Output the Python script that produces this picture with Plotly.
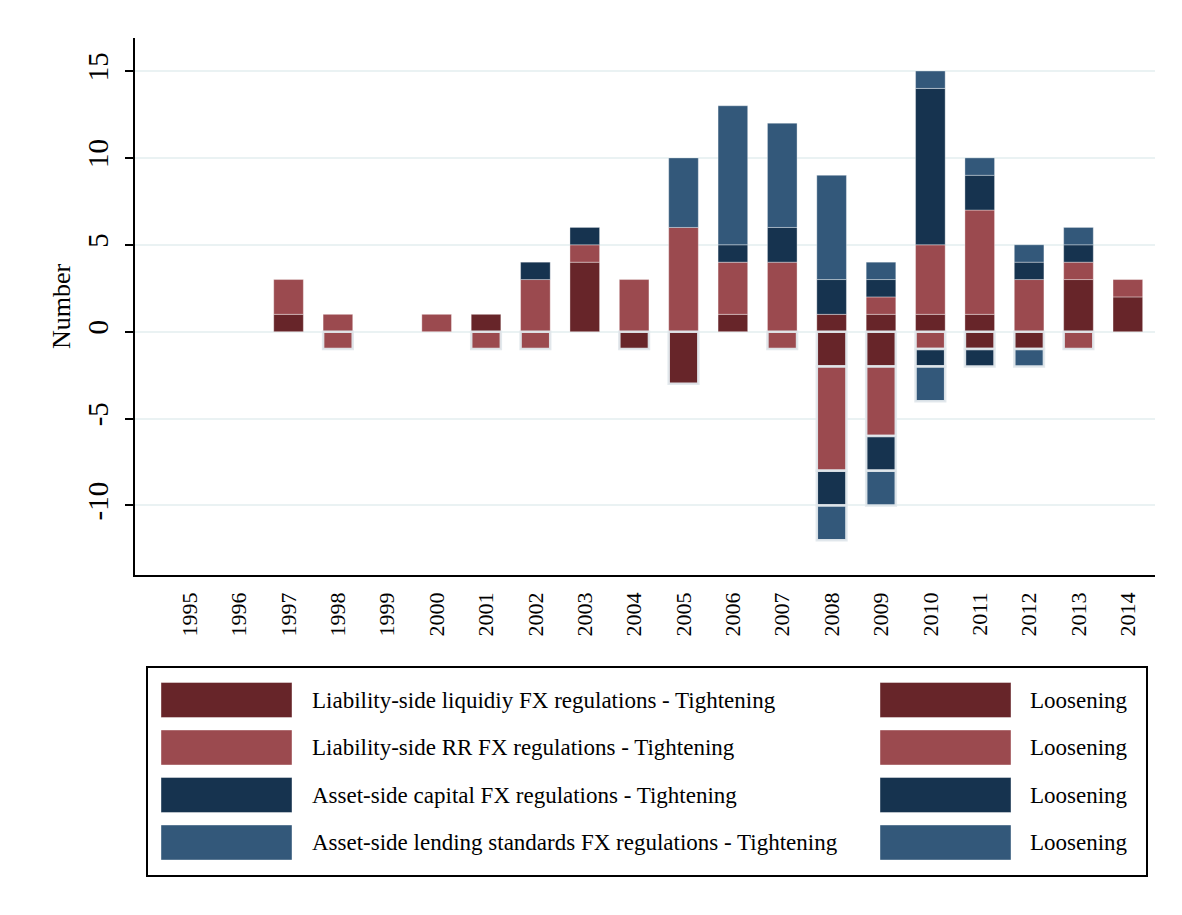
import plotly.graph_objects as go

years = list(range(1995, 2015))

# tightening (positive counts)
liq_tight = [0, 0, 1, 0, 0, 0, 1, 0, 4, 0, 0, 1, 0, 1, 1, 1, 1, 0, 3, 2]
rr_tight = [0, 0, 2, 1, 0, 1, 0, 3, 1, 3, 6, 3, 4, 0, 1, 4, 6, 3, 1, 1]
cap_tight = [0, 0, 0, 0, 0, 0, 0, 1, 1, 0, 0, 1, 2, 2, 1, 9, 2, 1, 1, 0]
lend_tight = [0, 0, 0, 0, 0, 0, 0, 0, 0, 0, 4, 8, 6, 6, 1, 1, 1, 1, 1, 0]

# loosening (negative counts)
liq_loose = [0, 0, 0, 0, 0, 0, 0, 0, 0, -1, -3, 0, 0, -2, -2, 0, -1, -1, 0, 0]
rr_loose = [0, 0, 0, -1, 0, 0, -1, -1, 0, 0, 0, 0, -1, -6, -4, -1, 0, 0, -1, 0]
cap_loose = [0, 0, 0, 0, 0, 0, 0, 0, 0, 0, 0, 0, 0, -2, -2, -1, -1, 0, 0, 0]
lend_loose = [0, 0, 0, 0, 0, 0, 0, 0, 0, 0, 0, 0, 0, -2, -2, -2, 0, -1, 0, 0]

labels = [
    "Liability-side liquidiy FX regulations - Tightening",
    "Liability-side RR FX regulations - Tightening",
    "Asset-side capital FX regulations - Tightening",
    "Asset-side lending standards FX regulations - Tightening",
]
loose_label = "Loosening"
colors = ["#672529", "#9b4a4f", "#16334f", "#33587a"]

y_ticks = [-10, -5, 0, 5, 10, 15]
y_ticktext = ["-10", "-5", "0", "5", "10", "15"]

# page has an 8px body margin, so work in figure pixels = page pixels - 8
OFF = 8
W, H = 1182 - OFF, 915 - OFF
L, R, T, B = 135 - OFF, 1155 - OFF, 38 - OFF, 575 - OFF
FONT = "Liberation Serif, Times New Roman, serif"


def nz(vals):
    # drop empty segments so they don't leave an outline on the axis
    return [v if v != 0 else None for v in vals]


fig = go.Figure()
for vals, name, col in zip([liq_tight, rr_tight, cap_tight, lend_tight], labels, colors):
    fig.add_trace(go.Bar(
        x=years, y=nz(vals), name=name, width=0.6,
        marker=dict(color=col, line=dict(color="rgba(255,255,255,0.35)", width=1)),
    ))
for vals, col in zip([liq_loose, rr_loose, cap_loose, lend_loose], colors):
    fig.add_trace(go.Bar(
        x=years, y=nz(vals), name=loose_label, width=0.6,
        marker=dict(color=col, line=dict(color="rgba(225,232,236,0.95)", width=2.5)),
    ))


# hand-drawn legend with large swatches (page pixel -> paper coords)
def px(x):
    return (x - OFF - L) / (R - L)


def py(y):
    return (B - (y - OFF)) / (B - T)


shapes = [dict(type="rect", xref="paper", yref="paper",
               x0=px(147), x1=px(1147), y0=py(876), y1=py(667),
               line=dict(color="black", width=2), fillcolor="white")]
annotations = []
row_y = [700, 747.5, 795, 842.5]
for i, (name, col) in enumerate(zip(labels, colors)):
    yc = row_y[i]
    for sx in (161, 880):
        shapes.append(dict(type="rect", xref="paper", yref="paper",
                           x0=px(sx), x1=px(sx + 131), y0=py(yc + 17.5), y1=py(yc - 17.5),
                           line=dict(color="rgba(255,255,255,0.4)", width=1), fillcolor=col))
    annotations.append(dict(xref="paper", yref="paper", x=px(310), y=py(yc), text=name,
                            showarrow=False, xanchor="left", yanchor="middle",
                            font=dict(size=23, color="black", family=FONT)))
    annotations.append(dict(xref="paper", yref="paper", x=px(1028), y=py(yc), text=loose_label,
                            showarrow=False, xanchor="left", yanchor="middle",
                            font=dict(size=23, color="black", family=FONT)))

fig.update_layout(
    width=W, height=H,
    barmode="relative",
    showlegend=False,
    paper_bgcolor="white", plot_bgcolor="white",
    margin=dict(l=L, r=W - R, t=T, b=H - B, pad=0),
    font=dict(family=FONT, color="black"),
    shapes=shapes, annotations=annotations,
    xaxis=dict(
        range=[1993.89, 2014.55], tickmode="array", tickvals=years,
        ticktext=[str(y) for y in years], tickangle=-90,
        tickfont=dict(size=22, family=FONT), showgrid=False, zeroline=False,
        showline=True, linecolor="black", linewidth=1.5, ticks="", ticklabelstandoff=7,
    ),
    yaxis=dict(
        range=[-14.0, 16.9], tickmode="array", tickvals=y_ticks, ticktext=y_ticktext,
        tickangle=-90, tickfont=dict(size=29, family=FONT),
        showgrid=True, gridcolor="#eaf2f3", gridwidth=2,
        zeroline=False, showline=True, linecolor="black", linewidth=1.5,
        ticks="outside", ticklen=8, tickwidth=1.5, tickcolor="black", ticklabelstandoff=6,
        title=dict(text="Number", font=dict(size=26, family=FONT), standoff=4),
    ),
)

fig.write_html("out.html")
